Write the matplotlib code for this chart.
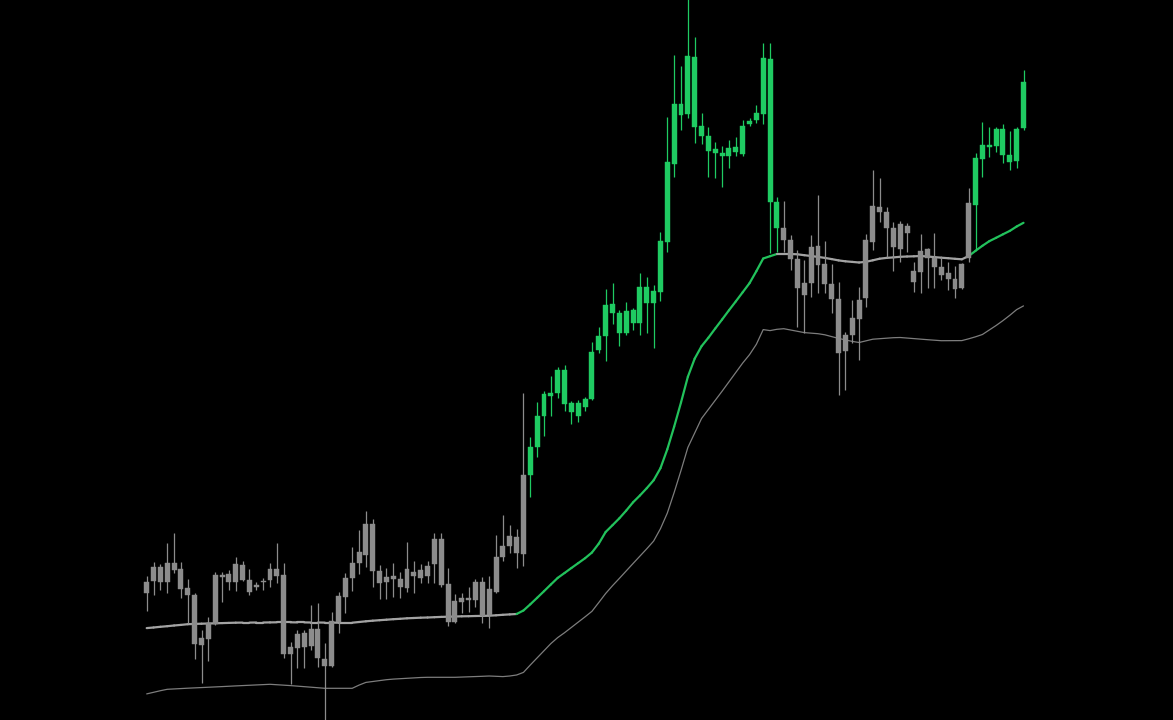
import matplotlib
matplotlib.use("Agg")
import matplotlib.pyplot as plt
import numpy as np
from matplotlib.collections import LineCollection

# ---- data (price units) ----
opens = [127.3,139,153.3,137.7,156.7,150.7,131.7,125,81.7,80.7,
         96,145,146,138.3,155,140,133.5,138,140,150.7,
         144.7,66,72.3,73.3,74,90.7,60.7,54.3,98.3,123.3,
         141.7,156.7,165,196,149,138.3,140.7,141,131.7,148.3,
         142.3,144,156,180.7,136,98.3,118.3,121.7,120,138.3,
         105,128.3,162.7,174,183.3,166,245,273.3,304.3,324,
         327.3,350,316.7,304.3,312.7,320.7,370,384.3,406.7,407.3,
         387.3,410,397.3,432.7,416.7,428.3,478.3,556,615.7,606,
         662.7,594,584,571.3,567.3,564,568.3,566,596,600,
         606,660.7,518.3,491.7,480,460.7,425,437.3,474.3,456,
         436,420.7,369.3,385,400.7,421.7,478.3,512.7,508.3,491.7,
         470.7,494.3,449,448.3,471,461.7,453.3,446.7,441,431.7,
         461.7,515,560.7,573.5,574,590.7,565,559,591.7]
closes = [138.3,153.3,137.7,156.7,150,130.7,125,76,75,97.3,
          145,143.5,138.3,155.7,140,128.3,134.5,139,150.7,144,
          66,72.7,85.7,86.7,90.7,61.7,54.3,99.3,124,141.7,
          157.3,167.7,196,149,137.3,142.7,144,132.7,150.7,144,
          150,154,180.7,135,98.3,119,121.7,120,138.3,104,
          130.7,163.3,174.3,184,166.7,245,273.3,304.3,326,327.3,
          350,316,308.3,317.3,320.7,368.3,384.3,415,415.7,387.3,
          409.3,396.7,432.7,416.7,429.3,479.3,557.7,615.7,605,664,
          593.3,584,569.3,567.3,564,571.7,572.7,594,599.3,607.3,
          661.7,518.3,491.7,480,460.7,431.7,437.3,472.7,455,436,
          420.7,367.3,385,401.7,420,480,514.3,508.3,491.7,473.5,
          496,486.7,438.3,469,461.7,453.3,445,440.7,431,455.7,
          516.7,561.7,575,574.5,590.7,565,558.3,590.7,638.3]
highs = [144,158.3,156,177.3,186.7,158.3,141,127.3,90,102.7,
         148.3,148.3,150,163.3,159,151,138.3,142.3,156.7,177.3,
         156.7,78.3,90,90,114.7,116.7,77.3,108.3,128.3,146.7,
         172.7,190,209.3,201,155,151.7,157.3,148.3,178.3,159.3,
         156,159,186.7,186.7,151.7,126,127.3,132.7,140.7,143.3,
         144,185,205,195,190.7,326.7,283.3,318.3,329.3,344.3,
         352.7,355,319,320,323.3,378.3,392.7,430.7,437.3,410,
         418.3,411.7,446.7,443.3,435,488.3,603.3,665,654.3,730,
         683.3,606.7,593.3,578.3,574.3,580,582.7,600,601.7,615,
         676.7,676.7,523.3,519.3,485,470,460,485,525,479.3,
         456,438.3,388.3,420,433.3,486,550,541.7,513.3,498,
         499.3,496.7,458.3,485.7,472.3,486.7,463.3,457.7,454.3,456.7,
         531.7,567.3,598.3,593.3,593.3,596,589.3,593.3,650]
lows = [109,125,130,127.3,147.3,121.7,96.7,60.7,37.3,59,
        95,118.3,130,129.3,139,125,130,130,132.7,137.3,
        61.7,36,51.7,51.7,70,53.3,-5,53.3,86.7,107.3,
        129.3,146,153.3,132.7,120.7,120.7,123.3,121.7,128.3,127.3,
        136.7,137.3,137.3,132.7,94,97.3,107.3,108.3,112.7,96.7,
        91.7,126.7,159.3,167.3,151.7,154,223.3,262.7,284,304.3,
        321.7,309.3,296,298.3,309.3,320,366.7,359.3,396,374,
        385,390,385,386.7,371.7,419.3,468.3,542.7,590,601.7,
        576.7,576,543.3,541.7,532.7,551.7,564,564,594,596.7,
        596,466.7,468.3,468.3,450,393.3,387.3,423.3,426.7,426.7,
        406.7,325,330,376.7,360,413.3,470,498.3,463.3,449.3,
        458.3,468.3,428.3,426.7,432.3,431.7,440,430,421.7,431,
        458,470,542.7,563.3,568.3,556.7,550,551.7,590]

# upper band (regime line) and lower band, one value per candle
upper = [91.9,92.5,93.2,93.8,94.5,95.1,95.8,96.1,96.3,96.5,
         96.7,96.9,97.1,97.3,97.4,97.4,97.5,97.5,97.6,97.7,
         97.7,97.7,97.6,97.6,97.5,97.5,97.4,97.4,97.3,97.3,
         97.3,98.0,98.7,99.3,99.8,100.3,100.8,101.2,101.7,102.0,
         102.3,102.5,102.8,103.1,103.3,103.5,103.7,103.8,104.0,104.1,
         104.3,104.7,105.2,105.6,106.0,109.5,115.7,122.2,128.8,135.5,
         142.1,147.0,152.0,156.9,161.8,167.5,176.4,188.0,194.8,201.7,
         209.4,217.7,224.5,231.8,239.7,251.8,270.7,293.3,317.5,343.2,
         361.4,373.8,382.3,391.5,400.5,409.7,418.6,427.7,436.8,448.8,
         461.5,463.8,466.0,466.0,466.0,465.7,464.8,464.0,463.1,462.1,
         460.9,459.6,458.7,458.1,457.5,458.2,459.7,461.3,462.1,462.6,
         463.2,463.5,463.7,464.0,463.5,462.9,462.3,461.8,461.2,460.7,
         464.0,469.2,474.2,478.8,482.2,485.7,489.1,493.5,497.2]
lower = [26.1,27.7,29.3,30.7,31.1,31.4,31.8,32.1,32.4,32.8,
         33.1,33.4,33.8,34.1,34.4,34.7,35.1,35.4,35.7,35.3,
         34.8,34.4,33.9,33.4,32.8,32.2,31.7,31.7,31.7,31.7,
         31.7,34.9,37.6,38.5,39.4,40.3,40.9,41.3,41.7,42.1,
         42.5,42.7,42.7,42.7,42.7,42.7,43.0,43.2,43.4,43.7,
         44.0,43.7,43.4,44.0,45.0,47.6,55.0,62.1,69.2,76.4,
         82.4,87.3,92.6,98.0,103.2,108.7,117.5,126.5,134.3,141.6,
         149.1,156.5,163.8,171.2,178.9,191.3,206.9,227.5,249.5,272.5,
         287.0,301.5,310.6,319.8,328.8,338.2,347.5,356.9,365.3,375.7,
         390.4,389.4,390.7,391.3,390.0,388.7,387.4,386.8,386.3,385.2,
         383.4,381.6,380.1,378.6,377.5,379.2,380.8,381.3,381.8,382.3,
         382.5,382.0,381.4,380.8,380.3,379.8,379.3,379.3,379.3,379.4,
         381.2,383.2,385.5,390.0,394.5,399.4,404.7,410.4,414.1]

# regimes: candles coloured green / line segments coloured green (index ranges, inclusive)
candle_green_ranges = [(56, 92), (121, 128)]
line_green_ranges = [(54, 92), (120, 128)]

BG = "#000000"
GREY = "#8c8c8c"
GREEN = "#1fcb62"
LINE_GREY = "#a3a3a3"
LINE_GREEN = "#22c25c"
LOWER_GREY = "#7d7d7d"

n = len(opens)
x = np.arange(n)

def in_ranges(i, ranges):
    return any(a <= i <= b for a, b in ranges)

fig = plt.figure(figsize=(11.73, 7.20), dpi=100, facecolor=BG)
ax = fig.add_axes([0, 0, 1, 1])
ax.set_facecolor(BG)

spacing = 6.85
x0_px = 146.7
ax.set_xlim(-x0_px / spacing, (1173 - x0_px) / spacing)
ax.set_ylim(0, 720)
ax.axis("off")

# lower band
ax.plot(x, lower, color=LOWER_GREY, lw=0.9, zorder=2, solid_capstyle="round")

# upper line with regime colouring
segs = [[(x[i], upper[i]), (x[i + 1], upper[i + 1])] for i in range(n - 1)]
seg_cols = [LINE_GREEN if (in_ranges(i, line_green_ranges) and in_ranges(i + 1, line_green_ranges)) else LINE_GREY
            for i in range(n - 1)]
lc = LineCollection(segs, colors=seg_cols, linewidths=1.6, zorder=2, capstyle="round", joinstyle="round")
ax.add_collection(lc)

# candles
cols = [GREEN if in_ranges(i, candle_green_ranges) else GREY for i in range(n)]
o = np.array(opens); c = np.array(closes)
bot = np.minimum(o, c)
h = np.maximum(np.abs(c - o), 1.3)
ax.vlines(x, lows, highs, colors=cols, lw=0.9, zorder=3)
ax.bar(x, h, bottom=bot, width=0.72, color=cols, edgecolor=cols, linewidth=0.3, zorder=4)

fig.savefig("out.png", dpi=100, facecolor=BG)
